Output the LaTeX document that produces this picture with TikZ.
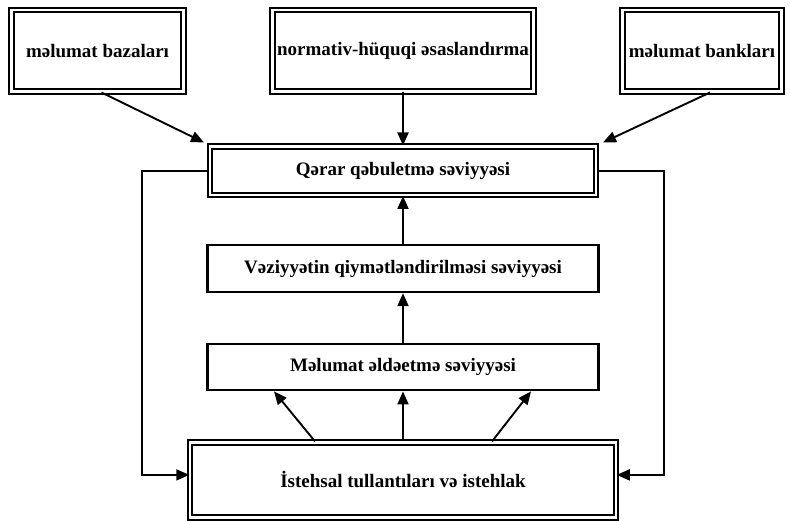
\documentclass[tikz,border=0pt]{standalone}
\usepackage{fontspec}
\setmainfont{Liberation Serif}
\usetikzlibrary{arrows.meta, positioning}

\begin{document}
\begin{tikzpicture}[
    x=1pt, y=-1pt,
    every node/.style={font=\fontsize{19}{22}\selectfont\bfseries},
    sourcebox/.style={rectangle, draw=black, line width=2pt, double=white,
                      double distance=2.4pt, inner sep=0pt,
                      minimum height=81.5pt, text centered},
    dbllevel/.style={rectangle, draw=black, line width=2pt, double=white,
                     double distance=2.4pt, inner sep=0pt, text centered},
    level/.style={rectangle, draw=black, line width=2.2pt, inner sep=0pt,
                  minimum width=391pt, minimum height=47pt, text centered},
    arrow/.style={-{Triangle[length=13pt,width=11pt]}, line width=1.9pt}
]
\useasboundingbox (0,0) rectangle (790,521);

% Decision level
\node (qerar) [dbllevel, minimum width=386pt, minimum height=48.5pt] at (403,170.75)
    {Qərar qəbuletmə səviyyəsi};

% Sources
\node (normativ) [sourcebox, minimum width=261pt, above=53pt of qerar]
    {normativ-hüquqi əsaslandırma};
\node (bazalar) [sourcebox, minimum width=172pt, left=87pt of normativ]
    {məlumat bazaları};
\node (banklar) [sourcebox, minimum width=159pt, right=87pt of normativ]
    {məlumat bankları};

% Lower levels
\node (veziyyet) [level, below=48pt of qerar]
    {Vəziyyətin qiymətləndirilməsi səviyyəsi};
\node (melumat) [level, minimum height=46pt, below=50pt of veziyyet]
    {Məlumat əldəetmə səviyyəsi};
\node (istehsal) [dbllevel, minimum width=425.5pt, minimum height=75pt, below=50pt of melumat]
    {İstehsal tullantıları və istehlak};

% Arrows
\draw [arrow] ([xshift=4pt]bazalar.south) -- ([xshift=-5pt,yshift=3pt]qerar.north west);
\draw [arrow] (normativ.south) -- (qerar.north);
\draw [arrow] ([xshift=8pt]banklar.south) -- ([xshift=6pt,yshift=3pt]qerar.north east);

\draw [arrow] (veziyyet.north) -- (qerar.south);
\draw [arrow] (melumat.north) -- (veziyyet.south);

\draw [arrow] ([xshift=-88pt]istehsal.north) -- ([xshift=-129pt]melumat.south);
\draw [arrow] (istehsal.north) -- (melumat.south);
\draw [arrow] ([xshift=89pt]istehsal.north) -- ([xshift=128pt]melumat.south);

% Feedback
\draw [arrow] (qerar.west) -- ++(-67,0) |- ([yshift=5pt]istehsal.west);
\draw [arrow] (qerar.east) -- ++(67,0) |- ([yshift=5pt]istehsal.east);

\end{tikzpicture}
\end{document}
